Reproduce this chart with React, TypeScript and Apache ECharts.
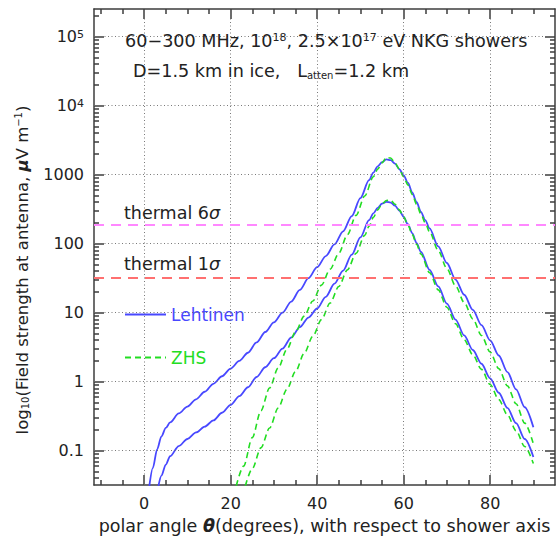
import React, { useEffect, useRef } from 'react';
import * as echarts from 'echarts';

// ---- data (field strength in microvolt per metre vs polar angle in degrees) ----
const thetaLehtinenHigh = [1.2, 2, 3, 4, 5, 6, 8, 10, 12, 14, 16, 18, 20, 22, 24, 26, 28, 30, 32, 34, 36, 38, 40, 42, 44, 46, 48, 50, 52, 53, 54, 55, 56, 57, 58, 59, 60, 61, 62, 63, 64, 65, 66, 68, 70, 72, 74, 76, 78, 80, 82, 84, 86, 88, 90];
const lehtinenHigh = [0.031, 0.056, 0.105, 0.162, 0.214, 0.257, 0.347, 0.437, 0.556, 0.716, 0.933, 1.2, 1.55, 2.0, 2.63, 3.72, 5.25, 7.24, 10.0, 14.5, 21.4, 31.6, 45.7, 66.1, 97.7, 151, 251, 457, 832, 1072, 1318, 1514, 1660, 1622, 1445, 1202, 977, 759, 550, 398, 288, 219, 166, 91.2, 52.5, 30.2, 18.2, 11.0, 6.61, 3.98, 2.4, 1.38, 0.776, 0.427, 0.219];

const thetaLehtinenLow = [3.3, 4, 5, 6, 8, 10, 12, 14, 16, 18, 20, 22, 24, 26, 28, 30, 32, 34, 36, 38, 40, 42, 44, 46, 48, 50, 52, 53, 54, 55, 56, 57, 58, 59, 60, 61, 62, 63, 64, 66, 68, 70, 72, 74, 76, 78, 80, 82, 84, 86, 88, 90];
const lehtinenLow = [0.031, 0.0437, 0.0631, 0.0832, 0.117, 0.148, 0.184, 0.224, 0.275, 0.355, 0.462, 0.617, 0.832, 1.17, 1.62, 2.19, 3.02, 4.37, 6.17, 8.51, 11.5, 17.0, 26.3, 40.7, 69.2, 123, 219, 275, 331, 380, 403, 394, 355, 302, 245, 191, 141, 102, 75.9, 41.7, 24.0, 13.5, 7.94, 4.68, 2.88, 1.82, 1.12, 0.692, 0.417, 0.251, 0.148, 0.0813];

const thetaZhsHigh = [21.3, 23, 25, 27, 29, 31, 33, 35, 37, 39, 41, 43, 45, 47, 49, 51, 53, 54, 55, 56, 57, 58, 59, 60, 61, 62, 63, 64, 65, 66, 68, 70, 72, 74, 76, 78, 80, 82, 84, 86, 88, 90];
const zhsHigh = [0.031, 0.06, 0.155, 0.38, 0.813, 1.58, 2.95, 5.25, 8.91, 14.8, 25.1, 42.7, 72.4, 135, 257, 490, 933, 1202, 1479, 1778, 1738, 1479, 1202, 933, 708, 513, 372, 269, 200, 148, 79.4, 43.7, 24.5, 14.1, 8.13, 4.68, 2.69, 1.55, 0.871, 0.479, 0.251, 0.126];

const thetaZhsLow = [23.4, 25, 27, 29, 31, 33, 35, 37, 39, 41, 43, 45, 47, 49, 51, 52, 53, 54, 55, 56, 57, 58, 59, 60, 61, 62, 63, 64, 66, 68, 70, 72, 74, 76, 78, 80, 82, 84, 86, 88, 90];
const zhsLow = [0.031, 0.055, 0.11, 0.214, 0.417, 0.776, 1.41, 2.57, 4.57, 7.94, 13.8, 24.0, 41.7, 72.4, 132, 178, 240, 309, 376, 422, 427, 372, 309, 245, 186, 135, 97.7, 70.8, 38.0, 21.4, 12.0, 6.92, 4.07, 2.45, 1.51, 0.912, 0.55, 0.331, 0.195, 0.115, 0.0653];

const thermalLevels = [32, 192]; // 1 sigma, 6 sigma

const xMajorTicks = [0, 20, 40, 60, 80];
const xMinorTicks = [-10, -5, 5, 10, 15, 25, 30, 35, 45, 50, 55, 65, 70, 75, 85, 90];
const yMajorTicks = [0.1, 1, 10, 100, 1000, 10000, 100000];
const yDecades = [0.01, 0.1, 1, 10, 100, 1000, 10000, 100000];
const yMinorSteps = [2, 3, 4, 5, 6, 7, 8, 9];

const X_RANGE = [-11.6, 95];
const Y_RANGE = [0.0319, 251000];

const FONT = 'DejaVu Sans';
const TEXT = '#222';
const FRAME = '#3c3c3c';
const BLUE = '#4848ff';
const GREEN = '#22dd22';
const PINK = '#ff88ff';
const RED = '#ff7070';
const GRIDC = '#6a6a6a';

const lg = Math.log10;

export default function App() {
  const ref = useRef<HTMLDivElement>(null);
  useEffect(() => {
    const chart = echarts.init(ref.current!, null, { renderer: 'svg' });
    const yMin = lg(Y_RANGE[0]);
    const yMax = lg(Y_RANGE[1]);
    const yMajor = yMajorTicks.map(lg);
    const yMinor: number[] = [];
    yDecades.forEach((d) => yMinorSteps.forEach((k) => {
      const v = lg(k * d);
      if (v > yMin && v < yMax) yMinor.push(v);
    }));

    const tickLine = { color: FRAME, width: 1.5 };
    const frameLine = { show: true, onZero: false, lineStyle: { color: FRAME, width: 1.5 } };

    const xBase = { type: 'value', min: X_RANGE[0], max: X_RANGE[1], gridIndex: 0 };
    const yBase = { type: 'value', min: yMin, max: yMax, gridIndex: 0 };

    const xAxes = [
      {
        ...xBase, position: 'bottom', axisLine: frameLine,
        axisTick: { show: true, inside: true, length: 10, customValues: xMajorTicks, lineStyle: tickLine },
        axisLabel: { show: true, customValues: xMajorTicks, margin: 10, fontFamily: FONT, fontSize: 16, color: TEXT },
        splitLine: { show: false },
        name: 'polar angle {b|θ}(degrees), with respect to shower axis',
        nameLocation: 'middle', nameGap: 32,
        nameTextStyle: { fontFamily: FONT, fontSize: 17.5, color: TEXT, rich: { b: { fontFamily: FONT, fontSize: 17.5, fontWeight: 'bold', fontStyle: 'italic', color: TEXT } } },
      },
      {
        ...xBase, position: 'bottom', axisLine: { show: false, onZero: false },
        axisTick: { show: true, inside: true, length: 5, customValues: xMinorTicks, lineStyle: tickLine },
        axisLabel: { show: false }, splitLine: { show: false },
      },
      {
        ...xBase, position: 'top', axisLine: frameLine,
        axisTick: { show: true, inside: true, length: 10, customValues: xMajorTicks, lineStyle: tickLine },
        axisLabel: { show: false }, splitLine: { show: false },
      },
      {
        ...xBase, position: 'top', axisLine: { show: false, onZero: false },
        axisTick: { show: true, inside: true, length: 5, customValues: xMinorTicks, lineStyle: tickLine },
        axisLabel: { show: false }, splitLine: { show: false },
      },
    ];

    const yLabelFormatter = (v: number) => {
      const n = Math.round(v);
      if (n >= 4) return `10{sup|${n}}`;
      return String(Number(Math.pow(10, n).toFixed(Math.max(0, -n))));
    };

    const yAxes = [
      {
        ...yBase, position: 'left', axisLine: frameLine,
        axisTick: { show: true, inside: true, length: 10, customValues: yMajor, lineStyle: tickLine },
        axisLabel: {
          show: true, customValues: yMajor, margin: 10, fontFamily: FONT, fontSize: 16, color: TEXT,
          formatter: yLabelFormatter,
          rich: { sup: { fontFamily: FONT, fontSize: 11, color: TEXT, verticalAlign: 'top' } },
        },
        splitLine: { show: false },
      },
      {
        ...yBase, position: 'left', axisLine: { show: false, onZero: false },
        axisTick: { show: true, inside: true, length: 5, customValues: yMinor, lineStyle: tickLine },
        axisLabel: { show: false }, splitLine: { show: false },
      },
      {
        ...yBase, position: 'right', axisLine: frameLine,
        axisTick: { show: true, inside: true, length: 10, customValues: yMajor, lineStyle: tickLine },
        axisLabel: { show: false }, splitLine: { show: false },
      },
      {
        ...yBase, position: 'right', axisLine: { show: false, onZero: false },
        axisTick: { show: true, inside: true, length: 5, customValues: yMinor, lineStyle: tickLine },
        axisLabel: { show: false }, splitLine: { show: false },
      },
    ];

    const curve = (name: string, theta: number[], vals: number[], color: string, dashed: boolean) => ({
      type: 'line', name, xAxisIndex: 0, yAxisIndex: 0, symbol: 'none',
      smooth: 0.3, smoothMonotone: 'x', clip: true, z: dashed ? 4 : 3,
      data: theta.map((t, i) => [t, lg(vals[i])]),
      lineStyle: { color, width: dashed ? 1.6 : 1.8, type: dashed ? [6, 4] : 'solid' },
      itemStyle: { color },
    });

    const gridStyle = { color: GRIDC, width: 1, type: [1, 2.5] as any, opacity: 0.9 };
    const gridSeries = {
      type: 'line', name: 'grid', xAxisIndex: 0, yAxisIndex: 0, data: [], silent: true,
      markLine: {
        silent: true, symbol: 'none', label: { show: false },
        lineStyle: gridStyle,
        data: [
          ...xMajorTicks.map((v) => ({ xAxis: v, lineStyle: gridStyle })),
          ...yMajor.map((v) => ({ yAxis: v, lineStyle: gridStyle })),
        ],
      },
      z: 1,
    };

    const thermalSeries = {
      type: 'line', name: 'thermal', xAxisIndex: 0, yAxisIndex: 0, data: [], silent: true,
      markLine: {
        silent: true, symbol: 'none', label: { show: false },
        data: [
          { yAxis: lg(thermalLevels[0]), lineStyle: { color: RED, width: 2.2, type: [10, 7] } },
          { yAxis: lg(thermalLevels[1]), lineStyle: { color: PINK, width: 2.2, type: [10, 7] } },
        ],
      },
      z: 2,
    };

    const legendBase = {
      orient: 'vertical', left: 124, padding: 0, itemWidth: 41, itemHeight: 14, itemGap: 0,
      selectedMode: false, textStyle: { fontFamily: FONT, fontSize: 17 },
      itemStyle: { opacity: 0, borderWidth: 0 },
    };

    const option: any = {
      animation: false,
      backgroundColor: '#ffffff',
      grid: { left: 94, right: 5, top: 9, bottom: 54, containLabel: false },
      xAxis: xAxes,
      yAxis: yAxes,
      legend: [
        { ...legendBase, top: 306, data: [{ name: 'Lehtinen', textStyle: { color: BLUE } }] },
        { ...legendBase, top: 349, data: [{ name: 'ZHS', textStyle: { color: GREEN } }] },
      ],
      series: [
        gridSeries,
        thermalSeries,
        curve('Lehtinen', thetaLehtinenHigh, lehtinenHigh, BLUE, false),
        curve('Lehtinen', thetaLehtinenLow, lehtinenLow, BLUE, false),
        curve('ZHS', thetaZhsHigh, zhsHigh, GREEN, true),
        curve('ZHS', thetaZhsLow, zhsLow, GREEN, true),
      ],
      graphic: [
        {
          type: 'text', left: 125, top: 32, z: 10,
          style: {
            text: '60−300 MHz, 10{sup|18}, 2.5×10{sup|17} eV NKG showers',
            fontFamily: FONT, fontSize: 17.6, fill: TEXT,
            rich: { sup: { fontFamily: FONT, fontSize: 11, fill: TEXT, verticalAlign: 'top' } },
          },
        },
        {
          type: 'text', left: 133, top: 62, z: 10,
          style: {
            text: 'D=1.5 km in ice,   L{sub|atten}=1.2 km',
            fontFamily: FONT, fontSize: 17.6, fill: TEXT,
            rich: { sub: { fontFamily: FONT, fontSize: 10, fill: TEXT, verticalAlign: 'bottom' } },
          },
        },
        {
          type: 'text', left: 124, top: 204, z: 10,
          style: { text: 'thermal 6{i|σ}', fontFamily: FONT, fontSize: 17.5, fill: TEXT,
            rich: { i: { fontFamily: FONT, fontSize: 17.5, fontStyle: 'italic', fill: TEXT } } },
        },
        {
          type: 'text', left: 124, top: 255, z: 10,
          style: { text: 'thermal 1{i|σ}', fontFamily: FONT, fontSize: 17.5, fill: TEXT,
            rich: { i: { fontFamily: FONT, fontSize: 17.5, fontStyle: 'italic', fill: TEXT } } },
        },
        {
          type: 'text', x: 22, y: 270, rotation: Math.PI / 2, z: 10,
          style: {
            text: 'log{sub|10}(Field strength at antenna, {mu|μ}V m{sup|−1})',
            fontFamily: FONT, fontSize: 16.5, fill: TEXT, align: 'center', verticalAlign: 'middle',
            rich: {
              sub: { fontFamily: FONT, fontSize: 10, fill: TEXT, verticalAlign: 'bottom' },
              sup: { fontFamily: FONT, fontSize: 10, fill: TEXT, verticalAlign: 'top' },
              mu: { fontFamily: FONT, fontSize: 16.5, fontWeight: 'bold', fontStyle: 'italic', fill: TEXT },
            },
          },
        },
      ],
    };
    chart.setOption(option);
    return () => chart.dispose();
  }, []);
  return <div ref={ref} style={{ position: 'absolute', left: 0, top: 0, width: 560, height: 540, background: '#fff' }} />;
}
